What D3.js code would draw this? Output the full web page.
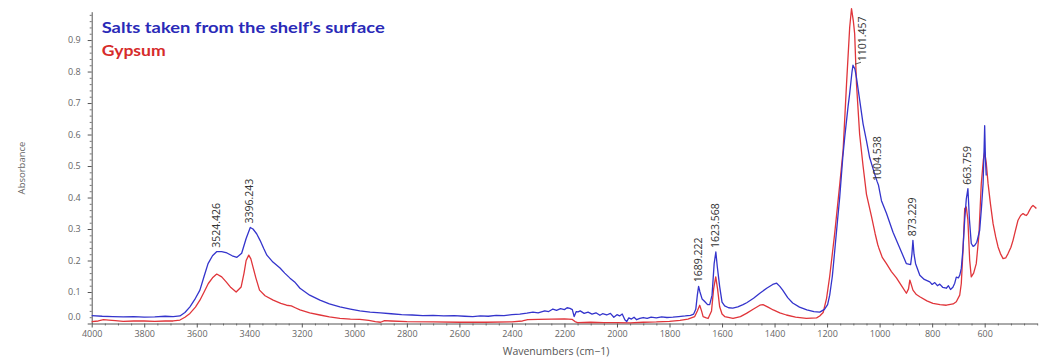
<!DOCTYPE html>
<html>
<head>
<meta charset="utf-8">
<script src="https://cdn.jsdelivr.net/npm/d3@7"></script>
<style>
  html, body { margin: 0; padding: 0; background: #fff; }
  svg { display: block; }
</style>
</head>
<body>
<svg id="chart" width="1045" height="360"></svg>
<script>
// FTIR absorbance spectra: salts from the shelf surface vs. reference gypsum

const saltWavenumbers = [
  4000, 3960, 3920, 3880, 3840, 3800, 3760, 3720, 3690, 3664, 3645, 3626, 3605, 3588, 3572, 3557, 3540,
  3524.426, 3505, 3485, 3465, 3447, 3429, 3412, 3396.243, 3386, 3372, 3359, 3345, 3333, 3310, 3283, 3265,
  3245, 3225, 3207, 3170, 3131, 3095, 3055, 3015, 2979, 2940, 2900, 2860, 2820, 2780, 2740, 2700, 2660,
  2620, 2580, 2549, 2520, 2490, 2460, 2430, 2400, 2370, 2343, 2320, 2300, 2275, 2260, 2244, 2230, 2215,
  2200, 2190, 2179, 2170, 2163, 2155, 2148, 2140, 2125, 2110, 2095, 2080, 2065, 2055, 2039, 2025, 2012,
  2000, 1990, 1980, 1970, 1963, 1955, 1945, 1935, 1925, 1913, 1900, 1885, 1870, 1850, 1830, 1810, 1787,
  1765, 1740, 1720, 1708, 1700, 1694, 1689.222, 1684, 1676, 1666, 1655, 1647, 1638, 1630, 1623.568, 1618,
  1609, 1600, 1590, 1575, 1559, 1540, 1520, 1506, 1480, 1456, 1430, 1407, 1392, 1380, 1369, 1350, 1331,
  1305, 1277, 1250, 1228, 1210, 1198, 1190, 1180, 1171, 1160, 1152, 1140, 1133, 1120, 1114, 1105,
  1101.457, 1094, 1088, 1076, 1063, 1050, 1038, 1019, 1010, 1004.538, 993, 974, 949, 923, 898, 882, 877,
  873.229, 869, 863, 847, 830, 809, 800, 790, 780, 771, 760, 746, 738, 730, 721, 714, 708, 700, 695, 689,
  683, 676, 670, 663.759, 658, 651, 644, 638, 630, 619, 612, 606, 602, 600, 597, 594
];
const saltAbsorbance = [
  0.025, 0.023, 0.022, 0.021, 0.022, 0.020, 0.021, 0.023, 0.022, 0.024, 0.035, 0.053, 0.080, 0.106, 0.150, 0.190, 0.215,
  0.228, 0.228, 0.224, 0.215, 0.210, 0.223, 0.270, 0.305, 0.300, 0.285, 0.264, 0.238, 0.217, 0.195, 0.176, 0.160,
  0.144, 0.130, 0.112, 0.090, 0.074, 0.062, 0.053, 0.046, 0.040, 0.036, 0.034, 0.031, 0.028, 0.027, 0.025, 0.026, 0.024,
  0.025, 0.023, 0.022, 0.024, 0.023, 0.026, 0.025, 0.028, 0.030, 0.033, 0.036, 0.034, 0.040, 0.038, 0.046, 0.042, 0.047,
  0.044, 0.050, 0.048, 0.044, 0.022, 0.038, 0.037, 0.040, 0.032, 0.036, 0.030, 0.034, 0.026, 0.031, 0.027, 0.032, 0.020,
  0.028, 0.024, 0.030, 0.012, 0.006, 0.018, 0.014, 0.020, 0.012, 0.016, 0.019, 0.016, 0.020, 0.018, 0.021, 0.019, 0.020,
  0.022, 0.024, 0.026, 0.030, 0.045, 0.090, 0.118, 0.100, 0.078, 0.070, 0.060, 0.060, 0.090, 0.190, 0.227, 0.180,
  0.117, 0.068, 0.056, 0.050, 0.049, 0.053, 0.060, 0.066, 0.080, 0.096, 0.112, 0.124, 0.128, 0.118, 0.106, 0.082, 0.065,
  0.052, 0.043, 0.038, 0.036, 0.045, 0.060, 0.090, 0.150, 0.230, 0.330, 0.400, 0.530, 0.590, 0.690, 0.730, 0.800,
  0.820, 0.808, 0.780, 0.710, 0.634, 0.580, 0.527, 0.475, 0.452, 0.440, 0.390, 0.350, 0.290, 0.239, 0.190, 0.187, 0.220,
  0.264, 0.220, 0.190, 0.153, 0.140, 0.132, 0.124, 0.130, 0.120, 0.125, 0.115, 0.112, 0.120, 0.108, 0.115, 0.128, 0.147, 0.145, 0.153, 0.175,
  0.233, 0.330, 0.395, 0.428, 0.330, 0.254, 0.245, 0.248, 0.258, 0.296, 0.370, 0.444, 0.560, 0.628, 0.520, 0.470
];

const gypsumWavenumbers = [
  4000, 3975, 3955, 3935, 3910, 3880, 3840, 3800, 3760, 3720, 3690, 3664, 3645, 3626, 3605, 3588, 3572, 3556,
  3540, 3524, 3505, 3488, 3470, 3450, 3431, 3420, 3412, 3402, 3394, 3386, 3375, 3361, 3340, 3309, 3280, 3258,
  3240, 3225, 3207, 3170, 3131, 3095, 3055, 3015, 2979, 2945, 2920, 2900, 2885, 2860, 2800, 2700, 2600, 2500,
  2400, 2360, 2340, 2300, 2250, 2200, 2170, 2160, 2150, 2100, 2050, 2000, 1950, 1900, 1850, 1800, 1760, 1730,
  1704, 1694, 1685, 1678, 1672, 1660, 1653, 1640, 1632, 1624, 1617, 1609, 1600, 1590, 1558, 1530, 1507, 1480,
  1456, 1444, 1425, 1405, 1380, 1355, 1320, 1279, 1240, 1228, 1215, 1202, 1190, 1171, 1152, 1139, 1126, 1114,
  1107, 1100, 1095, 1088, 1076, 1063, 1050, 1031, 1017, 1007, 1003, 990, 974, 955, 936, 915, 898, 890, 885,
  880, 873, 860, 847, 820, 797, 770, 746, 720, 708, 695, 689, 682, 676, 670, 664, 657, 651, 642, 632, 622, 613,
  605, 600, 594, 587, 578, 568, 558, 549, 540, 530, 520, 511, 500, 492, 483, 473, 463, 454, 447, 441, 435, 429,
  422, 416, 409, 403
];
const gypsumAbsorbance = [
  0.006, 0.008, 0.012, 0.011, 0.009, 0.007, 0.008, 0.008, 0.007, 0.008, 0.008, 0.011, 0.020, 0.032, 0.052, 0.074, 0.100, 0.127,
  0.145, 0.157, 0.148, 0.132, 0.114, 0.100, 0.116, 0.160, 0.200, 0.217, 0.205, 0.180, 0.145, 0.106, 0.088, 0.074, 0.064, 0.058,
  0.056, 0.050, 0.043, 0.034, 0.027, 0.021, 0.016, 0.014, 0.013, 0.010, 0.006, 0.004, 0.009, 0.008, 0.006, 0.005, 0.004, 0.004,
  0.005, 0.008, 0.012, 0.013, 0.014, 0.015, 0.013, 0.006, 0.003, 0.004, 0.003, 0.003, 0.002, 0.004, 0.005, 0.007, 0.010, 0.014,
  0.022, 0.040, 0.058, 0.040, 0.022, 0.018, 0.016, 0.040, 0.110, 0.148, 0.110, 0.053, 0.030, 0.022, 0.016, 0.022, 0.032, 0.046,
  0.058, 0.060, 0.052, 0.043, 0.034, 0.027, 0.020, 0.016, 0.018, 0.024, 0.035, 0.080, 0.150, 0.286, 0.440, 0.550, 0.760, 0.940,
  1.000, 0.960, 0.920, 0.760, 0.600, 0.500, 0.410, 0.340, 0.285, 0.250, 0.240, 0.210, 0.190, 0.165, 0.145, 0.118, 0.096, 0.110, 0.138,
  0.125, 0.106, 0.092, 0.085, 0.072, 0.064, 0.060, 0.058, 0.062, 0.069, 0.090, 0.127, 0.240, 0.365, 0.370, 0.330, 0.200, 0.148, 0.160, 0.190, 0.280, 0.443,
  0.520, 0.544, 0.510, 0.444, 0.380, 0.317, 0.275, 0.243, 0.222, 0.206, 0.208, 0.222, 0.242, 0.264, 0.295, 0.328, 0.343, 0.349, 0.345, 0.343, 0.350, 0.360,
  0.370, 0.375, 0.370, 0.365
];

// Peak annotations on the salt spectrum
const peakWavenumbers = [3524.426, 3396.243, 1689.222, 1623.568, 1101.457, 1004.538, 873.229, 663.759];
const peakAbsorbance  = [0.228, 0.305, 0.118, 0.227, 0.820, 0.440, 0.264, 0.428];

const xTicks = [4000, 3800, 3600, 3400, 3200, 3000, 2800, 2600, 2400, 2200, 2000, 1800, 1600, 1400, 1200, 1000, 800, 600];
const yTicks = [0.0, 0.1, 0.2, 0.3, 0.4, 0.5, 0.6, 0.7, 0.8, 0.9];

const seriesNames = ["Salts taken from the shelf\u2019s surface", "Gypsum"];
const seriesColors = ["#3434cc", "#e0353a"];
const legendColors = ["#2a2ab8", "#d62b2b"];

const svg = d3.select("#chart");

const x = d3.scaleLinear().domain([4000, 400]).range([91.7, 1037.2]);
const y = d3.scaleLinear().domain([0, 0.99]).range([323.5, 11.7]);

const tickFont = "'Open Sans', 'DejaVu Sans', sans-serif";

// minor ticks
const xMinor = d3.range(4000, 399, -50).filter(v => !xTicks.includes(v));
const yMinor = d3.range(0, 0.99, 0.02).filter(v => Math.abs(Math.round(v * 10) - v * 10) > 1e-6);

svg.append("g")
  .attr("transform", "translate(0,323.5)")
  .call(d3.axisBottom(x).tickValues(xMinor).tickSize(2).tickFormat(""))
  .call(g => g.select(".domain").remove())
  .call(g => g.selectAll("line").attr("stroke", "#777"));

svg.append("g")
  .attr("transform", "translate(91.7,0)")
  .call(d3.axisLeft(y).tickValues(yMinor).tickSize(2).tickFormat(""))
  .call(g => g.select(".domain").remove())
  .call(g => g.selectAll("line").attr("stroke", "#777"));

// major axes
const xAxis = svg.append("g")
  .attr("transform", "translate(0,323.5)")
  .call(d3.axisBottom(x).tickValues(xTicks).tickSize(4).tickSizeOuter(0).tickPadding(3).tickFormat(d3.format("d")));
xAxis.select(".domain").attr("stroke", "#555");
xAxis.selectAll(".tick line").attr("stroke", "#555");
xAxis.selectAll(".tick text").attr("fill", "#666").attr("font-family", tickFont).attr("font-size", 9);

const yAxis = svg.append("g")
  .attr("transform", "translate(91.7,0)")
  .call(d3.axisLeft(y).tickValues(yTicks).tickSize(4).tickSizeOuter(0).tickPadding(7).tickFormat(d3.format(".1f")));
yAxis.select(".domain").attr("stroke", "#555");
yAxis.selectAll(".tick line").attr("stroke", "#555");
yAxis.selectAll(".tick text").attr("fill", "#666").attr("font-family", tickFont).attr("font-size", 9)
  .attr("dy", d => d === 0 ? "-0.4em" : "0.32em");

// axis titles
svg.append("text")
  .attr("x", 556).attr("y", 355)
  .attr("text-anchor", "middle")
  .attr("font-family", tickFont).attr("font-size", 10.5).attr("fill", "#555")
  .text("Wavenumbers (cm\u22121)");

svg.append("text")
  .attr("transform", "translate(25,168) rotate(-90)")
  .attr("text-anchor", "middle")
  .attr("font-family", tickFont).attr("font-size", 9.5).attr("fill", "#666")
  .text("Absorbance");

// spectra
const line = d3.line().x(d => x(d[0])).y(d => y(d[1]));
const gypsum = d3.zip(gypsumWavenumbers, gypsumAbsorbance);
const salt = d3.zip(saltWavenumbers, saltAbsorbance);

svg.append("path").datum(gypsum)
  .attr("d", line).attr("fill", "none")
  .attr("stroke", seriesColors[1]).attr("stroke-width", 1.3).attr("stroke-linejoin", "round");

svg.append("path").datum(salt)
  .attr("d", line).attr("fill", "none")
  .attr("stroke", seriesColors[0]).attr("stroke-width", 1.3).attr("stroke-linejoin", "round");

// peak labels, rotated and sitting just above each maximum
const peakGroup = svg.append("g")
  .attr("font-family", tickFont).attr("font-size", 10.5).attr("fill", "#333");

d3.zip(peakWavenumbers, peakAbsorbance).forEach(([wn, ab]) => {
  const px = x(wn), py = y(ab);
  const shifted = wn === 1101.457;           // moved aside to clear the gypsum band
  const lx = shifted ? px + 9 : px - 1;
  const ly = shifted ? py - 4 : py - 4;
  if (shifted) {
    peakGroup.append("line")
      .attr("x1", px + 2).attr("y1", py - 1)
      .attr("x2", lx - 1).attr("y2", ly + 1)
      .attr("stroke", "#333").attr("stroke-width", 0.8);
  }
  peakGroup.append("text")
    .attr("transform", `translate(${lx},${ly}) rotate(-90)`)
    .attr("dominant-baseline", "central")
    .text(d3.format(".3f")(wn));
});

// legend
const legendFont = "Lato, 'Open Sans', sans-serif";
svg.append("text")
  .attr("x", 101.7).attr("y", 33.3)
  .attr("font-family", legendFont).attr("font-weight", 700).attr("font-size", 15.5)
  .attr("fill", legendColors[0])
  .attr("textLength", 283).attr("lengthAdjust", "spacingAndGlyphs")
  .text(seriesNames[0]);
svg.append("text")
  .attr("x", 101.7).attr("y", 55.5)
  .attr("font-family", legendFont).attr("font-weight", 700).attr("font-size", 15.5)
  .attr("fill", legendColors[1])
  .attr("textLength", 64).attr("lengthAdjust", "spacingAndGlyphs")
  .text(seriesNames[1]);
</script>
</body>
</html>
